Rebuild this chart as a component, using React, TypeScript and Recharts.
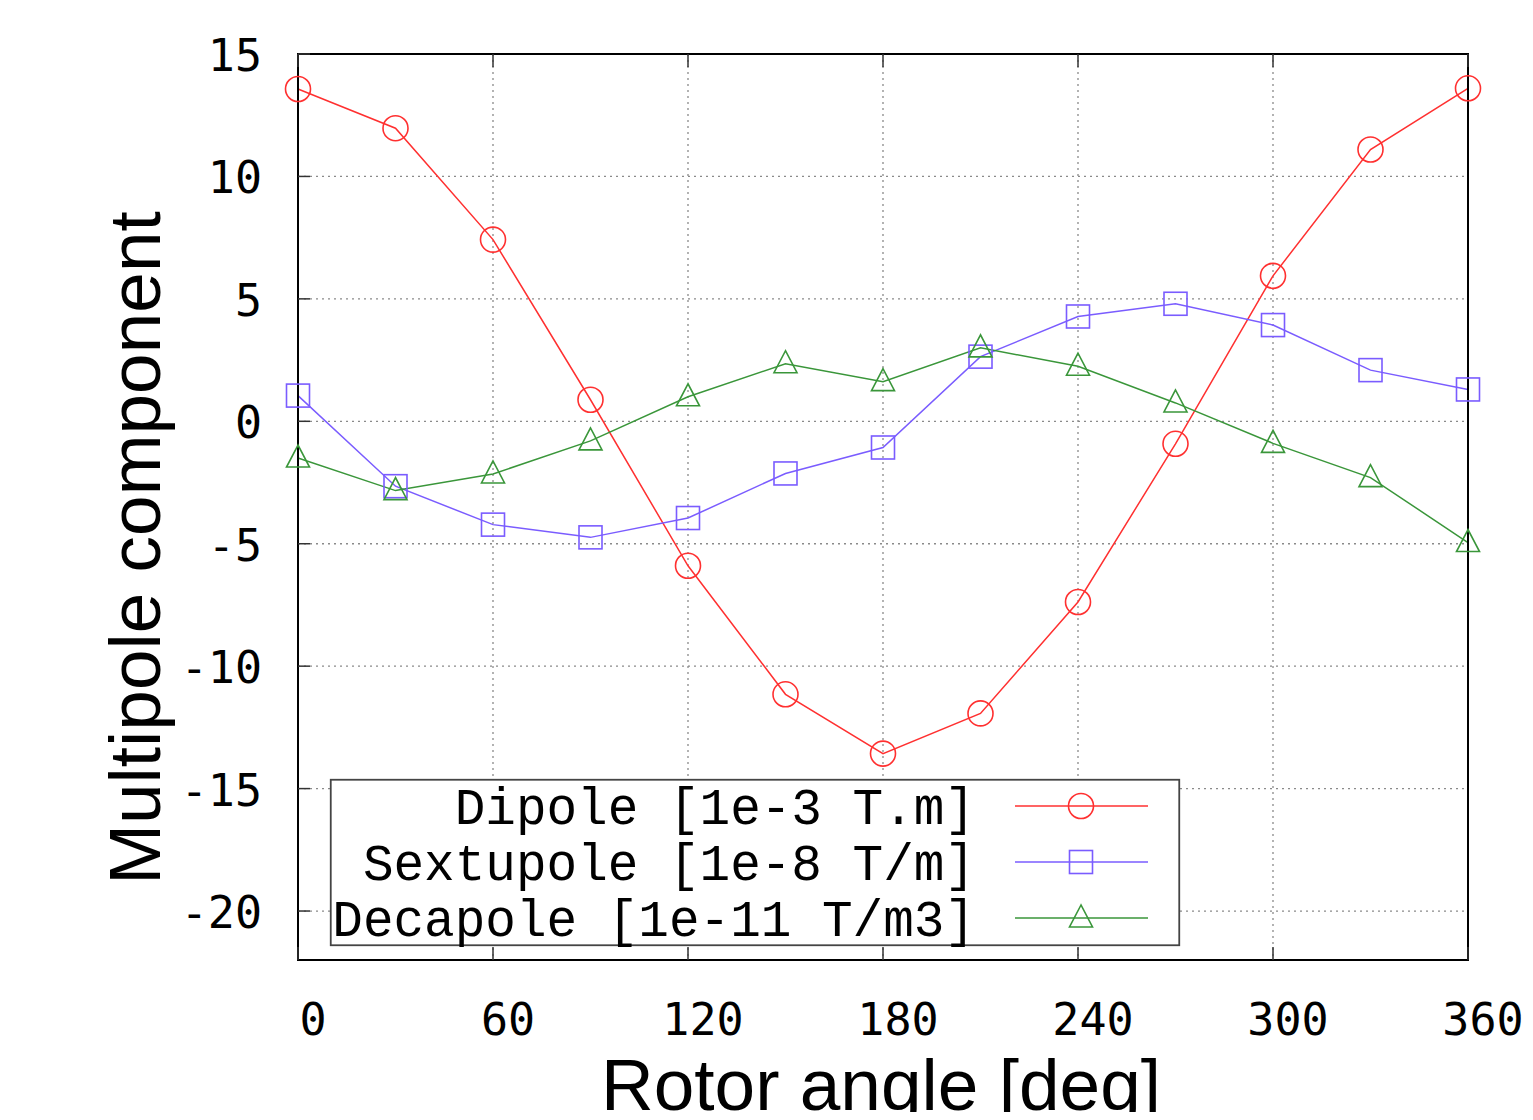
import React from 'react';
import { LineChart, Line, XAxis, YAxis, CartesianGrid, Legend, ReferenceArea } from 'recharts';

const angles = [0, 30, 60, 90, 120, 150, 180, 210, 240, 270, 300, 330, 360];
const dipole = [13.57, 11.97, 7.42, 0.88, -5.9, -11.15, -13.57, -11.93, -7.38, -0.92, 5.94, 11.1, 13.6];
const sextupole = [1.05, -2.65, -4.22, -4.74, -3.95, -2.13, -1.07, 2.64, 4.28, 4.8, 3.93, 2.09, 1.3];
const decapole = [-1.5, -2.83, -2.15, -0.8, 1.0, 2.35, 1.62, 3.0, 2.25, 0.75, -0.9, -2.3, -4.95];

const xTicks = [0, 60, 120, 180, 240, 300, 360];
const yTicks = [-20, -15, -10, -5, 0, 5, 10, 15];
const seriesNames = ['Dipole [1e-3 T.m]', 'Sextupole [1e-8 T/m]', 'Decapole [1e-11 T/m3]'];
const seriesKeys = ['dipole', 'sextupole', 'decapole'];
const seriesColors = ['#ff3030', '#7a5cff', '#3a963a'];
const seriesMarkers = ['circle', 'square', 'triangle'];
const xTitle = 'Rotor angle [deg]';
const yTitle = 'Multipole component';

const data = angles.map((a, i) => ({
  angle: a,
  dipole: dipole[i],
  sextupole: sextupole[i],
  decapole: decapole[i],
}));

const TICK_FONT = "'DejaVu Sans Mono', monospace";
const LEGEND_FONT = "'Liberation Mono', monospace";
const TITLE_FONT = "'Liberation Sans', Arial, sans-serif";

function marker(kind: string, cx: number, cy: number, color: string, key?: any) {
  if (cx == null || cy == null || isNaN(cx) || isNaN(cy)) return <g key={key} />;
  if (kind === 'circle') {
    return <circle key={key} cx={cx} cy={cy} r={12.5} fill="none" stroke={color} strokeWidth={1.6} />;
  }
  if (kind === 'square') {
    return <rect key={key} x={cx - 11.5} y={cy - 11.5} width={23} height={23} fill="none" stroke={color} strokeWidth={1.6} />;
  }
  return (
    <polygon
      key={key}
      points={`${cx},${cy - 13} ${cx - 11.5},${cy + 9} ${cx + 11.5},${cy + 9}`}
      fill="none"
      stroke={color}
      strokeWidth={1.6}
    />
  );
}

const YTick = (p: any) => {
  const { x, y, payload } = p;
  return (
    <g>
      <line x1={x} x2={x + 12} y1={y} y2={y} stroke="#333" strokeWidth={1.5} />
      <text x={x - 36} y={y + 17} textAnchor="end" fontFamily={TICK_FONT} fontSize={45} fill="#000">
        {payload.value}
      </text>
    </g>
  );
};

const YTickRight = (p: any) => {
  const { x, y } = p;
  return <line x1={x - 12} x2={x} y1={y} y2={y} stroke="#333" strokeWidth={1.5} />;
};

const XTick = (p: any) => {
  const { x, y, payload } = p;
  return (
    <g>
      <line x1={x} x2={x} y1={y} y2={y - 13} stroke="#333" strokeWidth={1.5} />
      <text x={x + 15} y={y + 75} textAnchor="middle" fontFamily={TICK_FONT} fontSize={45} fill="#000">
        {payload.value}
      </text>
    </g>
  );
};

const XTickTop = (p: any) => {
  const { x, y } = p;
  return <line x1={x} x2={x} y1={y} y2={y + 13} stroke="#333" strokeWidth={1.5} />;
};

const renderLegend = () => (
  <svg width={850} height={167} style={{ overflow: 'visible', display: 'block' }}>
    <rect x={0.75} y={0.75} width={848.5} height={165.5} fill="#fff" stroke="#444" strokeWidth={1.8} />
    {seriesNames.map((name, i) => {
      const baseline = 45 + i * 56;
      const mid = baseline - 18;
      return (
        <g key={name}>
          <text x={645} y={baseline} textAnchor="end" fontFamily={LEGEND_FONT} fontSize={51} fill="#000">
            {name}
          </text>
          <line x1={685} x2={818} y1={mid} y2={mid} stroke={seriesColors[i]} strokeWidth={1.5} />
          {marker(seriesMarkers[i], 751, mid, seriesColors[i])}
        </g>
      );
    })}
  </svg>
);

export default function App() {
  return (
    <div style={{ width: 1517, height: 1112, marginBottom: -8, overflow: 'hidden' }}>
      <LineChart
        width={1517}
        height={1112}
        data={data}
        margin={{ top: 45, right: 56, bottom: 0, left: 0 }}
      >
        <CartesianGrid stroke="#8a8a8a" strokeWidth={1.3} strokeDasharray="2 4" />
        <XAxis
          dataKey="angle"
          type="number"
          domain={[0, 360]}
          ticks={xTicks}
          height={160}
          tickSize={0}
          tickMargin={0}
          tickLine={false}
          axisLine={{ stroke: '#000', strokeWidth: 2 }}
          tick={<XTick />}
          interval={0}
        />
        <XAxis
          xAxisId="top"
          orientation="top"
          dataKey="angle"
          type="number"
          domain={[0, 360]}
          ticks={xTicks}
          height={1}
          tickSize={0}
          tickMargin={0}
          tickLine={false}
          axisLine={{ stroke: '#000', strokeWidth: 2 }}
          tick={<XTickTop />}
          interval={0}
        />
        <YAxis
          type="number"
          domain={[-22, 15]}
          ticks={yTicks}
          width={290}
          tickSize={0}
          tickMargin={0}
          tickLine={false}
          axisLine={{ stroke: '#000', strokeWidth: 2 }}
          tick={<YTick />}
          interval={0}
        />
        <YAxis
          yAxisId="right"
          orientation="right"
          type="number"
          domain={[-22, 15]}
          ticks={yTicks}
          width={1}
          tickSize={0}
          tickMargin={0}
          tickLine={false}
          axisLine={{ stroke: '#000', strokeWidth: 2 }}
          tick={<YTickRight />}
          interval={0}
        />
        <ReferenceArea
          x1={0}
          x2={360}
          y1={-22}
          y2={15}
          fill="none"
          fillOpacity={0}
          stroke="#000"
          strokeWidth={2}
          ifOverflow="visible"
        />
        {seriesKeys.map((k, i) => (
          <Line
            key={k}
            dataKey={k}
            name={seriesNames[i]}
            type="linear"
            stroke={seriesColors[i]}
            strokeWidth={1.5}
            isAnimationActive={false}
            activeDot={false}
            dot={(p: any) => marker(seriesMarkers[i], p.cx, p.cy, seriesColors[i], `${k}-${p.index}`)}
          />
        ))}
        <Legend
          layout="horizontal"
          verticalAlign="middle"
          align="center"
          content={renderLegend}
          wrapperStyle={{ left: 322, top: 771, width: 850, height: 167, margin: 0, padding: 0 }}
        />
        <text x={873} y={1102} textAnchor="middle" fontFamily={TITLE_FONT} fontSize={73} fill="#000">
          {xTitle}
        </text>
        <text
          x={152}
          y={540}
          textAnchor="middle"
          fontFamily={TITLE_FONT}
          fontSize={73}
          fill="#000"
          transform="rotate(-90 152 540)"
        >
          {yTitle}
        </text>
      </LineChart>
    </div>
  );
}
